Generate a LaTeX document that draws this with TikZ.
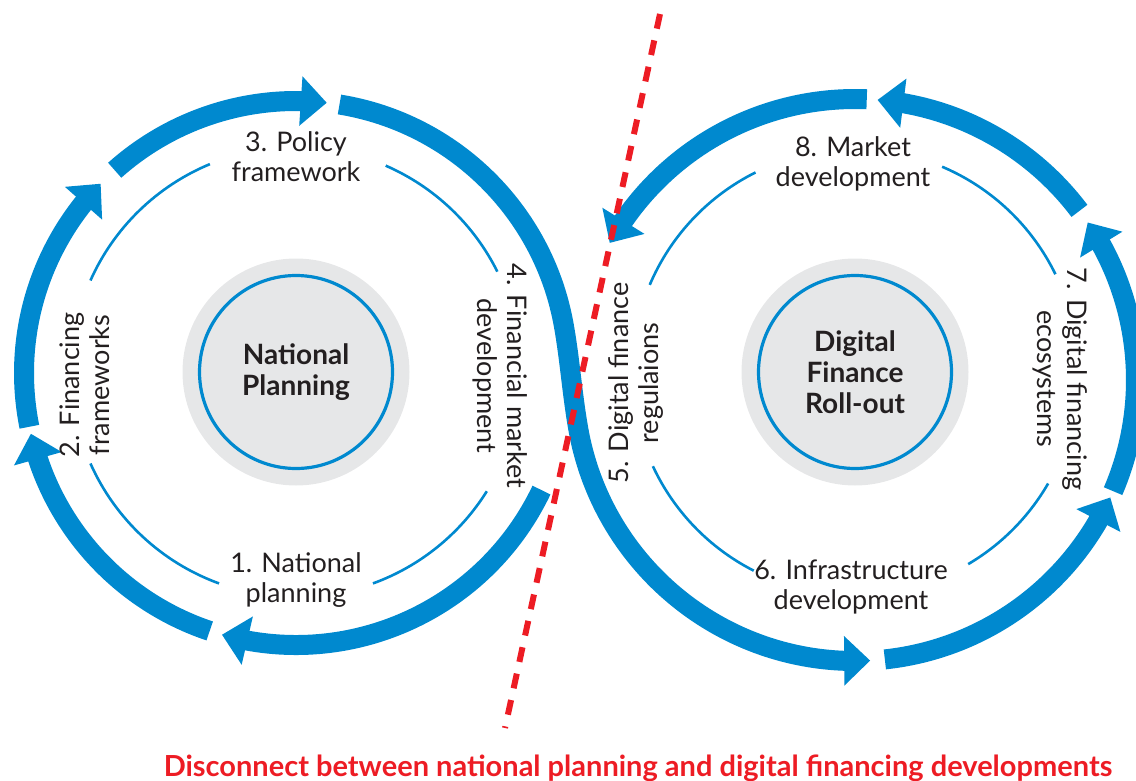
\documentclass[tikz,border=0pt]{standalone}
\usepackage{fontspec}
\setmainfont{Lato}
\usetikzlibrary{arrows.meta,calc,bending}

\newlength{\du}
\setlength{\du}{0.5pt}

\definecolor{ringblue}{RGB}{0,137,207}
\definecolor{hubgray}{RGB}{230,231,232}
\definecolor{textdark}{RGB}{35,31,32}
\definecolor{cutred}{RGB}{237,28,36}

\tikzset{
  band/.style={draw=ringblue, line width=10pt, line cap=butt,
    -{Triangle[length=13pt,width=24pt]}},
  guide/.style={draw=ringblue, line width=1.3pt},
  hubdisc/.style={fill=hubgray, draw=none},
  hubring/.style={draw=ringblue, line width=1.6pt},
  lbl/.style={font=\fontsize{13.5}{15}\selectfont, text=textdark,
    align=center, inner sep=0pt},
  hubtxt/.style={font=\fontsize{14}{15.5}\selectfont\bfseries, text=textdark,
    align=center, inner sep=0pt},
  cutline/.style={draw=cutred, line width=3pt, dash pattern=on 7.5pt off 6pt}
}

\begin{document}
\begin{tikzpicture}
\pgftransformyscale{-1.000000}
\useasboundingbox (0\du,0\du) rectangle (1136\du,781\du);
% centres
\coordinate (lc) at (296\du,373\du);
\coordinate (rc) at (855\du,380\du);
\coordinate (lh) at (296\du,372\du);
\coordinate (rh) at (855\du,372\du);

% hubs
\fill[hubdisc] (lh) circle (113.5\du);
\draw[hubring] (lh) circle (96.5\du);
\fill[hubdisc] (rh) circle (113.5\du);
\draw[hubring] (rh) circle (96.5\du);

% thin inner arcs
\draw[guide] ($(lh)+(204:225\du)$) arc[start angle=204, end angle=247.5, radius=225\du];
\draw[guide] ($(lh)+(293.5:225\du)$) arc[start angle=293.5, end angle=333.5, radius=225\du];
\draw[guide] ($(lh)+(32:225\du)$) arc[start angle=32, end angle=70, radius=225\du];
\draw[guide] ($(lh)+(110:225\du)$) arc[start angle=110, end angle=156, radius=225\du];
\draw[guide] ($(rh)+(203:223\du)$) arc[start angle=203, end angle=243.5, radius=223\du];
\draw[guide] ($(rh)+(293:223\du)$) arc[start angle=293, end angle=334, radius=223\du];
\draw[guide] ($(rh)+(30:223\du)$) arc[start angle=30, end angle=59.5, radius=223\du];
\draw[guide] ($(rh)+(117:223\du)$) arc[start angle=117, end angle=155, radius=223\du];

% left loop
\draw[band] ($(lc)+(108.5:272\du)$) arc[start angle=108.5, end angle=167.1, radius=272\du];
\draw[band] ($(lc)+(168.6:272\du)$) arc[start angle=168.6, end angle=224.1, radius=272\du];
\draw[band] ($(lc)+(228.2:272\du)$) arc[start angle=228.2, end angle=276.5, radius=272\du];
\draw[band] ($(lc)+(25.5:272\du)$) arc[start angle=25.5, end angle=105.8, radius=272\du];
% crossing
\draw[band] ($(lc)+(279.2:272\du)$) arc[start angle=279.2, end angle=350, radius=272\du]
  .. controls +(6.1\du,34.5\du) and +(-6.1\du,-34.5\du) .. ($(rc)+(170:281\du)$)
  arc[start angle=170, end angle=86.9, radius=281\du];
% right loop
\draw[band] ($(rc)+(83.9:281\du)$) arc[start angle=83.9, end angle=24.7, radius=281\du];
\draw[band] ($(rc)+(23.3:281\du)$) arc[start angle=23.3, end angle=-34.1, radius=281\du];
\draw[band] ($(rc)+(-37:281\du)$) arc[start angle=-37, end angle=-85.4, radius=281\du];
\draw[band] ($(rc)+(-87.6:281\du)$) arc[start angle=-87.6, end angle=-150.8, radius=281\du];

% labels
\node[hubtxt] (hubnp) at (296\du,372\du) {National\\Planning};
\node[hubtxt] (hubdf) at (855\du,372\du) {Digital\\Finance\\Roll-out};
\node[lbl] (stepnat) at (296\du,580\du) {1. National\\planning};
\node[lbl, rotate=90] (stepfin) at (85\du,385\du) {2. Financing\\frameworks};
\node[lbl] (steppol) at (296\du,157\du) {3. Policy\\framework};
\node[lbl, rotate=-90] (stepmkt) at (500\du,376\du) {4. Financial market\\development};
\node[lbl, rotate=90] (stepreg) at (636\du,383\du) {5. Digital finance\\regulaions};
\node[lbl] (stepinf) at (851\du,587\du) {6. Infrastructure\\development};
\node[lbl, rotate=-90] (stepeco) at (1060\du,379\du) {7. Digital financing\\ecosystems};
\node[lbl] (stepdev) at (853\du,164\du) {8. Market\\development};

% disconnect
\coordinate (cuttop) at (660\du,14\du);
\coordinate (cutbot) at (505\du,728\du);
\draw[cutline] (cuttop) -- (cutbot);
\node[font=\fontsize{14.5}{16}\selectfont\bfseries, text=cutred, inner sep=0pt]
  (caption) at (638\du,768\du) {Disconnect between national planning and digital financing developments};
\end{tikzpicture}
\end{document}
